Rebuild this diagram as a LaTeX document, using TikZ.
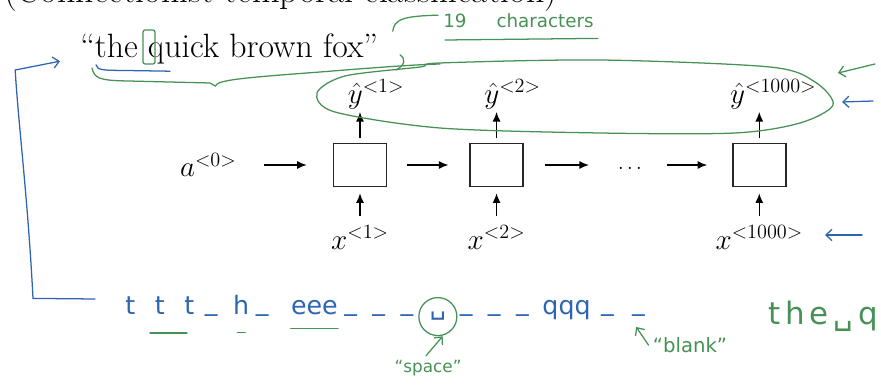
\documentclass[tikz,border=0pt]{standalone}
\usepackage{fontspec}
\usepackage{tikz}
\usetikzlibrary{arrows.meta,positioning}
\newfontfamily\handfont{DejaVu Sans}
\definecolor{inkgreen}{RGB}{70,145,85}
\definecolor{inkblue}{RGB}{45,100,180}
\newcommand{\ctcblank}{\raisebox{3pt}{\_}}

\begin{document}
\begin{tikzpicture}[
  cell/.style={draw=black!85, line width=1.1pt, minimum width=1.325cm, minimum height=1.075cm, inner sep=0pt},
  lbl/.style={inner sep=0pt, font=\fontsize{20}{24}\selectfont},
  flow/.style={-{Latex[length=2.4mm,width=2mm]}, line width=1pt},
  gpen/.style={draw=inkgreen, line width=0.9pt, line cap=round},
  bpen/.style={draw=inkblue, line width=0.9pt, line cap=round},
  barb/.style={-{Straight Barb[length=1.5mm,width=2.8mm]}},
  ink/.style={inner sep=0pt, text=inkblue, font=\handfont\fontsize{18}{20}\selectfont},
  note/.style={inner sep=0pt, text=inkgreen, font=\handfont\fontsize{13}{15}\selectfont},
  spacemark/.style={draw=inkgreen, line width=0.9pt, circle, minimum size=0.95cm, inner sep=0pt}
]
\useasboundingbox (0,0) rectangle (22.025,-9.625);

% title, only its lower edge is on the page
\node[anchor=base west, inner sep=0pt, font=\fontsize{25.5}{30}\selectfont] (title) at (0.1,-0.06) {(Connectionist temporal classification)};
\node[anchor=base west, inner sep=0pt, font=\fontsize{24}{28}\selectfont] (phrase) at (2.0,-1.45) {``the quick brown fox''};

% the unrolled network
\node[cell] (cell1) at (9.0,-4.125) {};
\node[cell, right=2.05cm of cell1] (cell2) {};
\node[lbl, font=\fontsize{15}{18}\selectfont, right=2.35cm of cell2, yshift=-0.1cm] (dots) {$\cdots$};
\node[cell, right=2.25cm of cell2.east -| dots.east] (cell3) {};

\node[lbl, left=2.4cm of cell1] (a0) {$a^{<0>}$};
\node[lbl, above=0.83cm of cell1, xshift=0.4cm] (yh1) {$\hat{y}^{<1>}$};
\node[lbl, above=0.83cm of cell2, xshift=0.4cm] (yh2) {$\hat{y}^{<2>}$};
\node[lbl, above=0.83cm of cell3, xshift=0.35cm] (yh3) {$\hat{y}^{<1000>}$};
\node[lbl, below=0.95cm of cell1] (x1) {$x^{<1>}$};
\node[lbl, below=0.95cm of cell2] (x2) {$x^{<2>}$};
\node[lbl, below=0.95cm of cell3] (x3) {$x^{<1000>}$};

\draw[flow, shorten <=0.68cm, shorten >=0.65cm] (a0.east |- cell1) -- (cell1.west);
\draw[flow, shorten <=0.5cm, shorten >=0.52cm] (cell1) -- (cell2);
\draw[flow, shorten <=0.52cm, shorten >=0.72cm] (cell2.east) -- (cell2.east -| dots.west);
\draw[flow, shorten <=0.62cm, shorten >=0.62cm] (dots.east |- cell3) -- (cell3.west);
\foreach \i in {1,2,3} {
  \draw[flow, shorten <=0.12cm, shorten >=0.06cm] (cell\i.north) -- (cell\i.north |- yh\i.south);
  \draw[flow, shorten <=0.22cm, shorten >=0.15cm] (cell\i.south |- x\i.north) -- (cell\i.south);
}

% green marks on the transcript
\draw[gpen, rounded corners=1.5pt] (3.575,-0.75) rectangle (3.875,-1.6);
\draw[bpen] (2.4,-1.62) .. controls (2.42,-1.75) and (2.6,-1.76) .. (3.0,-1.76) -- (4.25,-1.78);
\draw[gpen] (2.3,-1.7) .. controls (2.35,-1.95) and (2.5,-2.0) .. (3.0,-2.02) -- (5.25,-2.075) -- (5.38,-2.15) .. controls (5.45,-2.0) and (6,-1.95) .. (8,-1.8) .. controls (9.5,-1.68) and (10.3,-1.62) .. (11,-1.6);
\draw[gpen] (9.9,-1.75) .. controls (10.15,-1.62) and (10.13,-1.45) .. (10.0,-1.37);
\draw[gpen] (9.82,-0.78) .. controls (9.85,-0.48) and (10.1,-0.4) .. (10.95,-0.38);
\node[note, anchor=base west] (count) at (11.075,-0.7) {19\hspace{0.75cm}characters};
\draw[gpen] ([xshift=0.05cm,yshift=-0.3cm]count.base west) -- ([xshift=0.1cm,yshift=-0.26cm]count.base east);
\draw[gpen] plot[smooth cycle] coordinates {(10.5,-1.675) (8.625,-1.9) (7.925,-2.325) (8.375,-2.8) (11,-3.2) (15,-3.325) (18.375,-3.325) (20,-3.075) (20.825,-2.625) (20.375,-2.05) (19.25,-1.675) (15,-1.5) (11,-1.575)};

% arrows in the right margin
\draw[gpen, barb] (21.875,-1.6) -- (20.95,-1.825);
\draw[bpen, barb] (21.825,-2.525) -- (21.05,-2.55);
\draw[bpen, barb] (21.55,-5.875) -- (20.625,-5.875);

% bracket from the output back to the text
\draw[bpen, barb] (2.375,-7.475) -- (0.825,-7.46) .. controls (0.7,-5) and (0.45,-3) .. (0.38,-1.75) -- (1.5,-1.53);

% CTC output
\node[ink, anchor=base west] (ttt) at (3.125,-7.875) {t\kern14pt t\kern14pt t};
\node[ink, base right=0.25cm of ttt] (bl1) {\ctcblank};
\node[ink, base right=0.375cm of bl1] (hh) {h};
\node[ink, base right=0.15cm of hh] (bl2) {\ctcblank};
\node[ink, base right=0.55cm of bl2] (eee) {eee};
\node[ink, base right=0.15cm of eee] (bl3) {\ctcblank\kern11pt\ctcblank\kern11pt\ctcblank};
\node[spacemark, text=inkblue, font=\handfont\fontsize{18}{20}\selectfont, base right=0.12cm of bl3] (spc) {␣};
\node[ink, base right=0.05cm of spc] (bl4) {\ctcblank\kern11pt\ctcblank\kern11pt\ctcblank};
\node[ink, base right=0.33cm of bl4] (qqq) {qqq};
\node[ink, base right=0.25cm of qqq] (bl5) {\ctcblank\kern13pt\ctcblank};

\draw[gpen] ([xshift=0.625cm,yshift=-0.45cm]ttt.base west) -- ++(0.925,0);
\draw[gpen] ([xshift=-0.1cm,yshift=-0.43cm]hh.base) -- ++(0.2,0);
\draw[gpen] ([yshift=-0.33cm]eee.base west) -- ([yshift=-0.33cm]eee.base east);

\node[note, font=\handfont\fontsize{12}{14}\selectfont] (spacelbl) at (10.7,-9.2) {“space”};
\draw[gpen, barb] ([xshift=-0.05cm,yshift=0.1cm]spacelbl.north) -- ([xshift=0.12cm]spc.south);
\node[note, font=\handfont\fontsize{14}{16}\selectfont] (blanklbl) at (17.25,-8.63) {“blank”};
\draw[gpen, barb] ([xshift=-0.1cm]blanklbl.west) -- ([xshift=-0.22cm,yshift=-0.3cm]bl5.base east);
\node[note, font=\handfont\fontsize{22}{26}\selectfont, anchor=base west] (decoded) at (19.2,-8.125) {t\kern3.5pt h\kern3.5pt e\kern3.5pt ␣\kern3.5pt q};
\end{tikzpicture}
\end{document}
